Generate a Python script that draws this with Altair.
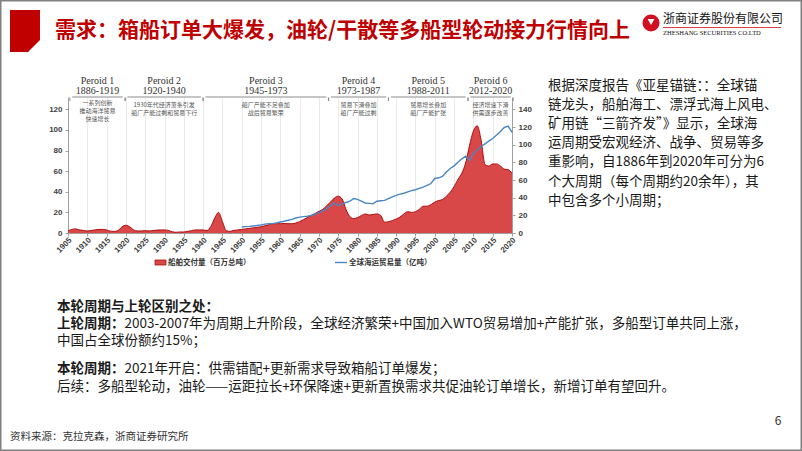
import altair as alt
import pandas as pd

# ------------------------------------------------------------------ data
red_years = list(range(1905, 2021))
red_values = [
    2.0, 3.5, 4.0, 3.0, 2.5, 2.0, 2.5, 3.0, 3.5, 3.5, 3.0, 1.8, 1.5, 2.5, 6.0,        # 1905-1919
    7.5, 6.0, 3.0, 2.0, 2.0, 2.2, 2.0, 2.3, 2.8, 3.0, 3.0, 2.5, 1.2, 0.7, 1.0,        # 1920-1934
    1.0, 1.6, 2.3, 3.0, 3.0, 3.0, 2.3, 6.5, 14.5, 20.0, 11.0, 2.3, 1.6, 2.6, 3.0,     # 1935-1949
    3.5, 4.0, 4.5, 5.0, 5.5, 6.0, 7.0, 8.0, 9.0, 9.0, 9.0, 9.2, 9.0, 9.0, 9.7,        # 1950-1964
    11.0, 13.0, 15.0, 17.0, 19.0, 21.0, 23.0, 26.5, 30.0, 34.0, 35.7, 33.0, 23.0, 16.0, 14.0,  # 1965-1979
    15.0, 17.0, 18.5, 17.5, 18.0, 18.5, 17.0, 10.5, 11.0, 12.0, 13.6, 15.5, 18.5, 20.7, 20.0,  # 1980-1994
    20.7, 23.0, 26.0, 26.0, 27.5, 30.0, 31.5, 32.5, 35.7, 39.5, 45.0, 52.0, 58.0, 68.0, 85.0,  # 1995-2009
    99.0, 104.0, 90.0, 66.5, 65.0, 67.0, 67.0, 65.0, 62.0, 61.5, 58.0,                # 2010-2020
]
blue_years = list(range(1950, 2021))
blue_values = [
    6.8, 7.2, 7.5, 8.0, 8.5, 9.0, 10.0, 10.5, 10.6, 11.5,
    12.5, 13.3, 14.4, 15.5, 17.0, 18.0, 18.5, 19.0, 20.0, 21.5,
    23.0, 25.0, 27.4, 31.0, 34.0, 31.0, 33.0, 34.5, 36.0, 39.0,
    38.0, 36.0, 34.0, 33.5, 33.0, 36.0, 36.5, 37.0, 39.0, 41.0,
    42.6, 44.0, 45.0, 46.5, 48.0, 49.0, 50.5, 52.0, 54.0, 56.0,
    61.7, 62.5, 64.0, 69.0, 73.0, 76.0, 80.0, 84.0, 87.0, 82.0,
    90.0, 94.0, 98.0, 101.0, 104.0, 107.0, 111.0, 115.0, 119.5, 121.0,
    114.0,
]
x_ticks = list(range(1905, 2021, 5))
x_tick_labels = [str(y) for y in x_ticks]
left_ticks = [0, 20, 40, 60, 80, 100, 120]
right_ticks = [0, 20, 40, 60, 80, 100, 120, 140]

period_names = ["Peroid 1", "Peroid 2", "Peroid 3", "Peroid 4", "Peroid 5", "Peroid 6"]
period_ranges = ["1886-1919", "1920-1940", "1945-1973", "1973-1987", "1988-2011", "2012-2020"]
period_start = [1905.5, 1919.8, 1940.0, 1972.5, 1988.0, 2008.6]
period_end = [1919.8, 1940.0, 1972.5, 1988.0, 2008.6, 2020.3]
period_notes = [
    "一系列创新\n推动海洋贸易\n快速增长",
    "1930年代经济萧条引发\n船厂产能过剩和贸易下行",
    "船厂产能不足叠加\n战后贸易繁荣",
    "贸易下滑叠加\n船厂产能过剩",
    "贸易增长叠加\n船厂产能扩张",
    "经济增速下滑\n供需逐步改善",
]

legend_labels = ["船舶交付量（百万总吨）", "全球海运贸易量（亿吨）"]

title_text = "需求：箱船订单大爆发，油轮/干散等多船型轮动接力行情向上"
company_cn = "浙商证券股份有限公司"
company_en = "ZHESHANG SECURITIES CO.LTD"

right_para = [
    "根据深度报告《亚星锚链：：全球锚",
    "链龙头，船舶海工、漂浮式海上风电、",
    "矿用链“三箭齐发”》显示，全球海",
    "运周期受宏观经济、战争、贸易等多",
    "重影响，自1886年到2020年可分为6",
    "个大周期（每个周期约20余年），其",
    "中包含多个小周期；",
]
# (bold prefix, regular remainder)
bottom_lines = [
    ("本轮周期与上轮区别之处：", ""),
    ("上轮周期：", "2003-2007年为周期上升阶段，全球经济繁荣+中国加入WTO贸易增加+产能扩张，多船型订单共同上涨，"),
    ("", "中国占全球份额约15%；"),
    ("本轮周期：", "2021年开启：供需错配+更新需求导致箱船订单爆发；"),
    ("", "后续：多船型轮动，油轮——运距拉长+环保降速+更新置换需求共促油轮订单增长，新增订单有望回升。"),
]
source_text = "资料来源：克拉克森，浙商证券研究所"
page_no = "6"

# ------------------------------------------------------------------ layout
OX, OY = 68, 97          # plot origin in page pixels
PW, PH = 444, 136        # plot size
W, H = 802, 451
CJK = "Noto Sans CJK SC"
RED = "#C00000"

dummy = pd.DataFrame({"a": [0]})

xscale = alt.Scale(domain=[1905, 2020], nice=False, zero=False)
xaxis = alt.Axis(values=x_ticks, labels=False, grid=True, gridColor="#E4E4E4",
                 gridWidth=0.8, domainColor="#A0A0A0", tickColor="#A0A0A0", tickSize=3,
                 title=None)


def X(field):
    return alt.X(field, scale=xscale, axis=xaxis)


def text_at(s, x, y, size, color="#000000", weight="normal", align="left",
            font=CJK, baseline="middle"):
    return alt.Chart(pd.DataFrame({"t": [s]})).mark_text(
        align=align, baseline=baseline, fontSize=size, font=font,
        fontWeight=weight, color=color
    ).encode(x=alt.value(x - OX), y=alt.value(y - OY), text="t:N")


# ------------------------------------------------------------------ chart marks
red_df = pd.DataFrame({"year": red_years, "v": red_values})
blue_df = pd.DataFrame({"year": blue_years, "v": blue_values})

area = alt.Chart(red_df).mark_area(
    color="#D84848", opacity=1, interpolate="monotone",
    line={"color": "#B00C0C", "strokeWidth": 1}
).encode(
    x=X("year:Q"),
    y=alt.Y("v:Q", scale=alt.Scale(domain=[0, 132], nice=False),
            axis=alt.Axis(values=left_ticks, grid=False, title=None, labelFontSize=8,
                          labelFontWeight="bold", labelColor="#404040",
                          labelFont="Liberation Sans", domainColor="#A0A0A0",
                          tickColor="#A0A0A0", tickSize=3, labelPadding=3)),
)

blue = alt.Chart(blue_df).mark_line(color="#4A86C5", strokeWidth=1.4).encode(
    x=X("year:Q"),
    y=alt.Y("v:Q", scale=alt.Scale(domain=[0, 154], nice=False),
            axis=alt.Axis(values=right_ticks, orient="right", grid=False, title=None,
                          labelFontSize=8, labelFontWeight="bold", labelColor="#404040",
                          labelFont="Liberation Sans", domainColor="#A0A0A0",
                          tickColor="#A0A0A0", tickSize=3, labelPadding=3)),
)

xlab_df = pd.DataFrame({"year": x_ticks, "lab": x_tick_labels})
xlabels = alt.Chart(xlab_df).mark_text(
    angle=315, align="right", baseline="middle", fontSize=8, fontWeight="bold",
    font="Liberation Sans", color="#404040", dx=4
).encode(x=X("year:Q"), y=alt.value(PH + 9), text="lab:N")

pdf = pd.DataFrame({
    "name": period_names, "rng": period_ranges, "note": period_notes,
    "start": period_start, "end": period_end,
})
pdf["mid"] = (pdf["start"] + pdf["end"]) / 2
pdf["s"] = pdf["start"] + 0.6
pdf["e"] = pdf["end"] - 0.6

br_h = alt.Chart(pdf).mark_rule(color="#8C8C8C", strokeWidth=1).encode(
    x=X("s:Q"), x2="e:Q", y=alt.value(0))
br_l = alt.Chart(pdf).mark_rule(color="#8C8C8C", strokeWidth=1).encode(
    x=X("start:Q"), y=alt.value(0.5), y2=alt.value(4))
br_r = alt.Chart(pdf).mark_rule(color="#8C8C8C", strokeWidth=1).encode(
    x=X("end:Q"), y=alt.value(0.5), y2=alt.value(4))

p_name = alt.Chart(pdf).mark_text(font="Liberation Serif", fontSize=10, color="#333333",
                                  baseline="middle").encode(
    x=X("mid:Q"), y=alt.value(81 - OY), text="name:N")
p_rng = alt.Chart(pdf).mark_text(font="Liberation Serif", fontSize=10, color="#333333",
                                 baseline="middle").encode(
    x=X("mid:Q"), y=alt.value(91 - OY), text="rng:N")

note1 = alt.Chart(pdf.iloc[:1]).mark_text(font=CJK, fontSize=6, color="#555555",
                                          baseline="top", lineBreak="\n", lineHeight=8).encode(
    x=X("mid:Q"), y=alt.value(99.5 - OY), text="note:N")
note2 = alt.Chart(pdf.iloc[1:]).mark_text(font=CJK, fontSize=6, color="#555555",
                                          baseline="top", lineBreak="\n", lineHeight=8).encode(
    x=X("mid:Q"), y=alt.value(102 - OY), text="note:N")

# legend
leg_patch = alt.Chart(dummy).mark_rect(fill="#D84848", stroke="#B00C0C", strokeWidth=0.8).encode(
    x=alt.value(155 - OX), x2=alt.value(166 - OX), y=alt.value(260 - OY), y2=alt.value(265 - OY))
leg_line = alt.Chart(dummy).mark_rule(color="#4A86C5", strokeWidth=1.4).encode(
    x=alt.value(335 - OX), x2=alt.value(347 - OX), y=alt.value(262.5 - OY))
leg_t1 = text_at(legend_labels[0], 168, 263, 7.5, color="#333333", weight="bold")
leg_t2 = text_at(legend_labels[1], 349, 263, 7.5, color="#333333", weight="bold")

# ------------------------------------------------------------------ page decoration
border = alt.Chart(dummy).mark_rect(fill="white", fillOpacity=0, stroke="#808080",
                                    strokeWidth=1.5).encode(
    x=alt.value(0.75 - OX), x2=alt.value(W - 0.75 - OX),
    y=alt.value(0.75 - OY), y2=alt.value(H - 0.75 - OY))

block = alt.Chart(dummy).mark_point(
    shape="M -0.714 -1 L 0.714 -1 L 0.714 0.43 L 0.143 1 L -0.714 1 Z",
    filled=True, fill=RED, opacity=1, strokeWidth=0, size=1764
).encode(x=alt.value(25 - OX), y=alt.value(31 - OY))

title = text_at(title_text, 55, 31, 21, color=RED, weight="bold")

logo = alt.Chart(dummy).mark_point(shape="circle", filled=True, fill="#D01020", opacity=1,
                                   strokeWidth=0, size=290).encode(
    x=alt.value(651 - OX), y=alt.value(23 - OY))
logo_in = alt.Chart(dummy).mark_point(shape="triangle-down", filled=True, fill="white",
                                      opacity=1, strokeWidth=0, size=45).encode(
    x=alt.value(651 - OX), y=alt.value(22 - OY))
comp_cn = text_at(company_cn, 663, 19, 12, color="#111111")
comp_line = alt.Chart(dummy).mark_rule(color="#D01020", strokeWidth=0.8).encode(
    x=alt.value(663 - OX), x2=alt.value(781 - OX), y=alt.value(27.5 - OY))
comp_en = text_at(company_en, 663, 33, 6.5, color="#111111", font="Liberation Serif")

page_layers = [border, block, title, logo, logo_in, comp_cn, comp_line, comp_en]

for i, line in enumerate(right_para):
    page_layers.append(text_at(line, 548, 86 + 19.1 * i, 13.5, color="#1A1A1A"))

bottom_y = [307, 324, 341, 369, 387]
for (bold, rest), yy in zip(bottom_lines, bottom_y):
    if bold:
        page_layers.append(text_at(bold, 57, yy, 13.5, color="#1A1A1A", weight="bold"))
    if rest:
        offset = 57 + 13.5 * len(bold)
        page_layers.append(text_at(rest, offset, yy, 13.5, color="#1A1A1A"))

page_layers.append(text_at(page_no, 778, 421, 12, color="#333333", align="center"))
page_layers.append(text_at(source_text, 10, 437, 10.5, color="#333333"))

main = alt.layer(area, xlabels, br_h, br_l, br_r, p_name, p_rng, note1, note2,
                 leg_patch, leg_line, leg_t1, leg_t2, *page_layers)

chart = alt.layer(main, blue).resolve_scale(y="independent").properties(
    width=PW, height=PH,
    padding={"left": OX, "top": OY, "right": W - OX - PW, "bottom": H - OY - PH},
    autosize=alt.AutoSizeParams(type="none"),
    background="white",
).configure_view(stroke="transparent")

chart.save("out.html", embed_options={"renderer": "svg", "actions": False})
